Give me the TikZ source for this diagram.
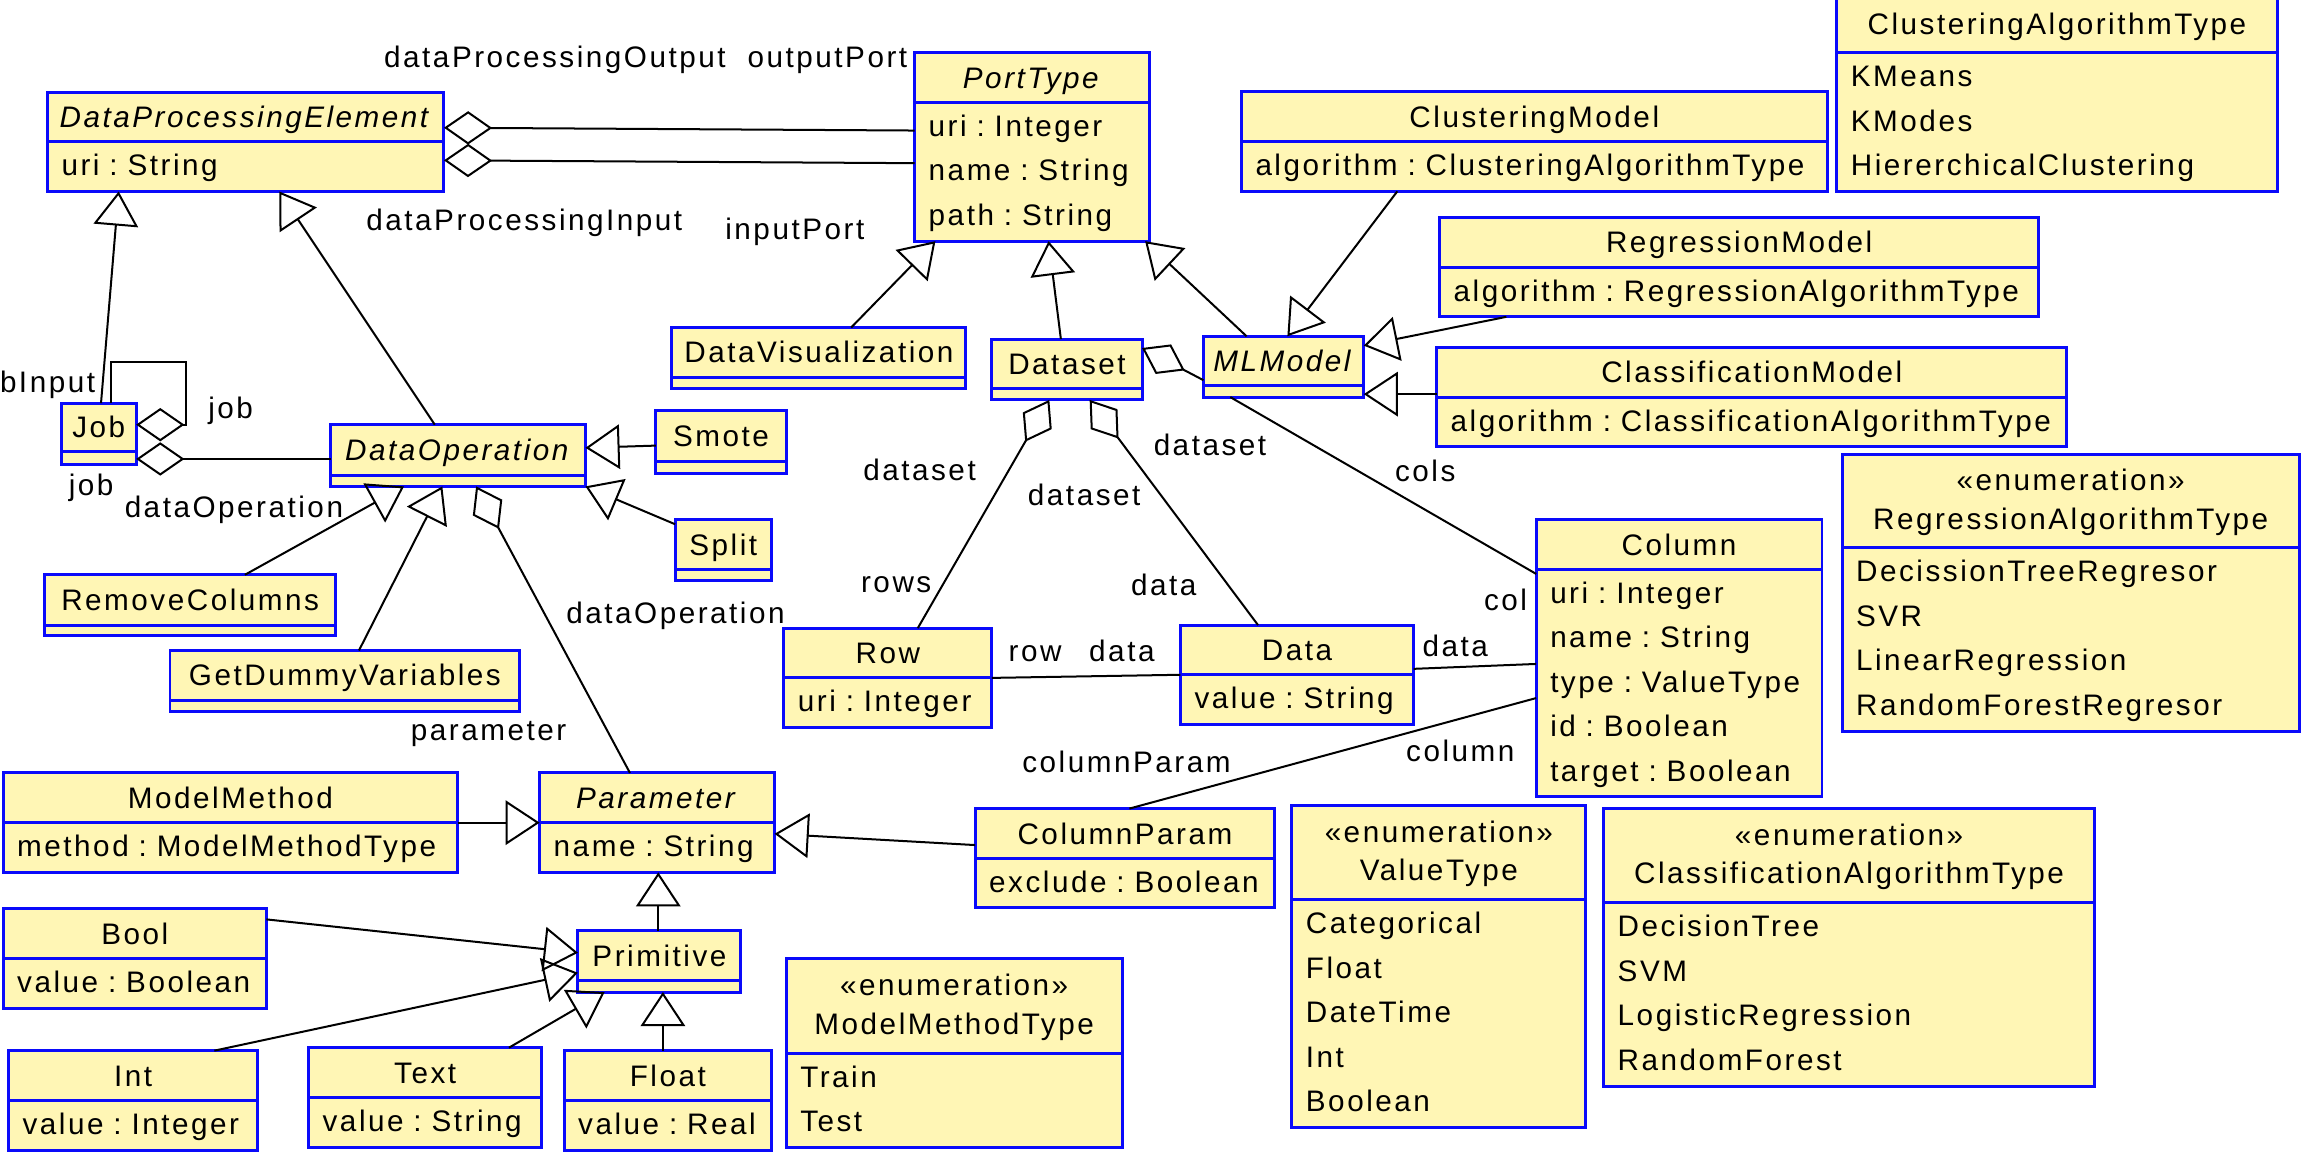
\documentclass[tikz,border=0pt]{standalone}
\usepackage{fontspec}
\setmainfont{Liberation Sans}[LetterSpace=8.5]
\usetikzlibrary{arrows.meta,positioning}
\definecolor{umlfill}{RGB}{255,246,181}
\definecolor{umlblue}{RGB}{10,10,250}

\begin{document}
\begin{tikzpicture}
    [
      x=1pt, y=-1pt,
      every node/.style={font=\fontsize{20}{30}\selectfont, inner sep=0pt, outer sep=0pt},
      cls/.style={draw=umlblue, fill=umlfill, line width=2pt},
      head/.style={cls, anchor=north west, minimum height=33.5pt, text height=14.3pt, text depth=0pt},
      enumhead/.style={cls, anchor=north west, minimum height=63.6pt, align=center, font=\fontsize{20}{26}\selectfont, text height=38pt, text depth=0pt},
      attrs/.style={cls, align=left, inner xsep=9.5pt, minimum height=33.5pt, text height=12.3pt, text depth=0pt},
      emptyrow/.style={cls, minimum height=7.5pt},
      role/.style={anchor=base west},
      genl/.style={-{Triangle[open,length=23pt,width=30pt]}, line width=1.35pt},
      aggr/.style={{Diamond[open,length=32.5pt,width=22.5pt]}-, line width=1.35pt},
      assoc/.style={line width=1.35pt},
    ]
    \useasboundingbox (0,0) rectangle (1560,784.7);

    % top row
    \node (dp-element) [head, minimum width=267.3pt] at (32,62.1) {\textit{DataProcessingElement}};
    \node (dp-element-attr) [attrs, text width=248.3pt, below=0pt of dp-element] {uri~:~String};

    \node (port-type) [head, minimum width=158.4pt] at (616.6,35.5) {\textit{PortType}};
    \node (port-type-attr) [attrs, text width=139.4pt, minimum height=93.6pt, text depth=60pt, below=0pt of port-type] {uri~:~Integer\\name~:~String\\path~:~String};

    \node (clus-model) [head, minimum width=394.9pt] at (836.9,62) {ClusteringModel};
    \node (clus-model-attr) [attrs, text width=375.9pt, below=0pt of clus-model] {algorithm~:~ClusteringAlgorithmType};

    \node (clus-algo) [head, minimum width=296.8pt, minimum height=39pt] at (1238.3,-3.5) {ClusteringAlgorithmType};
    \node (clus-algo-items) [attrs, text width=277.8pt, minimum height=93.6pt, text depth=60pt, below=0pt of clus-algo] {KMeans\\KModes\\HiererchicalClustering};

    \node (regr-model) [head, minimum width=403.9pt] at (970.5,146.6) {RegressionModel};
    \node (regr-model-attr) [attrs, text width=384.9pt, below=0pt of regr-model] {algorithm~:~RegressionAlgorithmType};

    \node (class-model) [head, minimum width=424.9pt] at (968.5,234.2) {ClassificationModel};
    \node (class-model-attr) [attrs, text width=405.9pt, below=0pt of class-model] {algorithm~:~ClassificationAlgorithmType};

    \node (regr-algo) [enumhead, minimum width=308.3pt, minimum height=63.1pt] at (1241.8,306.3) {«enumeration»\\RegressionAlgorithmType};
    \node (regr-algo-items) [attrs, text width=289.3pt, minimum height=123.5pt, text depth=90pt, below=0pt of regr-algo] {DecissionTreeRegresor\\SVR\\LinearRegression\\RandomForestRegresor};

    % middle row
    \node (data-vis) [head, minimum width=198.2pt] at (453,220.8) {DataVisualization};
    \node (data-vis-attr) [emptyrow, minimum width=198.2pt, below=0pt of data-vis] {};

    \node (dataset) [head, minimum width=101.2pt] at (668.7,228.6) {Dataset};
    \node (dataset-attr) [emptyrow, minimum width=101.2pt, below=0pt of dataset] {};

    \node (ml-model) [head, minimum width=108.1pt] at (811.3,226.7) {\textit{MLModel}};
    \node (ml-model-attr) [emptyrow, minimum width=108.1pt, below=0pt of ml-model] {};

    \node (job) [head, minimum width=50.5pt, minimum height=32.6pt] at (41.3,271.8) {Job};
    \node (job-attr) [emptyrow, minimum width=50.5pt, minimum height=8.5pt, below=0pt of job] {};

    \node (data-op) [head, minimum width=171.8pt, minimum height=34.1pt] at (222.9,286.3) {\textit{DataOperation}};
    \node (data-op-attr) [emptyrow, minimum width=171.8pt, below=0pt of data-op] {};

    \node (smote) [head, minimum width=87.8pt, minimum height=34.6pt] at (442.2,276.8) {Smote};
    \node (smote-attr) [emptyrow, minimum width=87.8pt, below=0pt of smote] {};

    \node (split) [head, minimum width=65pt] at (455.1,350.4) {Split};
    \node (split-attr) [emptyrow, minimum width=65pt, below=0pt of split] {};

    \node (remove-cols) [head, minimum width=196.6pt, minimum height=34pt] at (29.9,387.5) {RemoveColumns};
    \node (remove-cols-attr) [emptyrow, minimum width=196.6pt, minimum height=7pt, below=0pt of remove-cols] {};

    \node (dummy-vars) [head, minimum width=235.8pt] at (114.6,438.5) {GetDummyVariables};
    \node (dummy-vars-attr) [emptyrow, minimum width=235.8pt, below=0pt of dummy-vars] {};

    \node (row) [head, minimum width=140.3pt] at (528.4,423.5) {Row};
    \node (row-attr) [attrs, text width=121.3pt, below=0pt of row] {uri~:~Integer};

    \node (data) [head, minimum width=157.2pt] at (795.8,421.4) {Data};
    \node (data-attr) [attrs, text width=138.2pt, below=0pt of data] {value~:~String};

    \node (column) [head, minimum width=192.7pt] at (1035.6,350.4) {Column};
    \node (column-attr) [attrs, text width=173.7pt, minimum height=153.1pt, text depth=120pt, below=0pt of column] {uri~:~Integer\\name~:~String\\type~:~ValueType\\id~:~Boolean\\target~:~Boolean};

    % bottom rows
    \node (model-method) [head, minimum width=306.5pt] at (2.1,521.1) {ModelMethod};
    \node (model-method-attr) [attrs, text width=287.5pt, below=0pt of model-method] {method~:~ModelMethodType};

    \node (parameter) [head, minimum width=158.4pt] at (363.8,521.1) {\textit{Parameter}};
    \node (parameter-attr) [attrs, text width=139.4pt, below=0pt of parameter] {name~:~String};

    \node (column-param) [head, minimum width=202pt] at (657.4,545.1) {ColumnParam};
    \node (column-param-attr) [attrs, text width=183pt, below=0pt of column-param] {exclude~:~Boolean};

    \node (value-type) [enumhead, minimum width=198.2pt] at (870.9,543) {«enumeration»\\ValueType};
    \node (value-type-items) [attrs, text width=179.2pt, minimum height=153.2pt, text depth=120pt, below=0pt of value-type] {Categorical\\Float\\DateTime\\Int\\Boolean};

    \node (class-algo) [enumhead, minimum width=330.9pt] at (1081.1,545) {«enumeration»\\ClassificationAlgorithmType};
    \node (class-algo-items) [attrs, text width=311.9pt, minimum height=123.6pt, text depth=90pt, below=0pt of class-algo] {DecisionTree\\SVM\\LogisticRegression\\RandomForest};

    \node (bool) [head, minimum width=177.5pt] at (2.1,612.7) {Bool};
    \node (bool-attr) [attrs, text width=158.5pt, below=0pt of bool] {value~:~Boolean};

    \node (primitive) [head, minimum width=109.9pt, minimum height=34pt] at (389.6,627.3) {Primitive};
    \node (primitive-attr) [emptyrow, minimum width=109.9pt, below=0pt of primitive] {};

    \node (method-type) [enumhead, minimum width=226.5pt] at (530,646.3) {«enumeration»\\ModelMethodType};
    \node (method-type-items) [attrs, text width=207.5pt, minimum height=63.5pt, text depth=30pt, below=0pt of method-type] {Train\\Test};

    \node (int) [head, minimum width=168.2pt] at (5.7,708.3) {Int};
    \node (int-attr) [attrs, text width=149.2pt, below=0pt of int] {value~:~Integer};

    \node (txt) [head, minimum width=157.3pt] at (208,706.3) {Text};
    \node (txt-attr) [attrs, text width=138.3pt, below=0pt of txt] {value~:~String};

    \node (float) [head, minimum width=139.8pt] at (380.3,708.3) {Float};
    \node (float-attr) [attrs, text width=120.8pt, below=0pt of float] {value~:~Real};

    % generalizations
    \path
    ([xshift=26.8pt]job.north west) edge [genl] ([xshift=48pt]dp-element-attr.south west)
    ([xshift=70.2pt]data-op.north west) edge [genl] ([xshift=156.3pt]dp-element-attr.south west)
    ([yshift=-23.6pt]smote.north west) edge [genl] ([yshift=-15.6pt]data-op.north east)
    ([yshift=-3pt]split.north west) edge [genl] (data-op-attr.south east)
    ([xshift=135.2pt]remove-cols.north west) edge [genl] ([xshift=49.5pt]data-op-attr.south west)
    ([xshift=127.4pt]dummy-vars.north west) edge [genl] ([xshift=75.3pt]data-op-attr.south west)

    ([xshift=120.8pt]data-vis.north west) edge [genl] ([xshift=14pt]port-type-attr.south west)
    ([xshift=46.5pt]dataset.north west) edge [genl] ([xshift=90.3pt]port-type-attr.south west)
    ([xshift=29.1pt]ml-model.north west) edge [genl] ([xshift=-3pt]port-type-attr.south east)

    ([xshift=105.1pt]clus-model-attr.south west) edge [genl] ([xshift=56.6pt]ml-model.north west)
    ([xshift=45pt]regr-model-attr.south west) edge [genl] ([yshift=-6.3pt]ml-model.north east)
    ([yshift=2pt]class-model.south west) edge [genl] ([yshift=-5.5pt]ml-model.south east)

    (model-method.south east) edge [genl] (parameter.south west)
    ([yshift=-24.6pt]column-param.north west) edge [genl] ([yshift=-7.5pt]parameter.south east)
    ([xshift=54.2pt]primitive.north west) edge [genl] ([xshift=80pt]parameter-attr.south west)

    ([yshift=-7.1pt]bool.north east) edge [genl] ([yshift=-15pt]primitive.north west)
    ([xshift=138.8pt]int.north west) edge [genl] ([yshift=-28.5pt]primitive.north west)
    ([xshift=135.1pt]txt.north west) edge [genl] ([xshift=18pt]primitive-attr.south west)
    ([xshift=66.6pt]float.north west) edge [genl] ([xshift=57.3pt]primitive-attr.south west)
    ;

    % aggregations and associations
    \path
    ([yshift=-24pt]dp-element.north east) edge [aggr] ([yshift=-19pt]port-type-attr.north west)
    ([yshift=-12.5pt]dp-element-attr.north east) edge [aggr] ([yshift=-41pt]port-type-attr.north west)
    ([yshift=-5pt]job-attr.north east) edge [aggr] ([yshift=-23.1pt]data-op.north west)
    ([xshift=98.1pt]data-op-attr.south west) edge [aggr] ([xshift=60.9pt]parameter.north west)
    ([yshift=-6pt]dataset.north east) edge [aggr] ([yshift=-29.6pt]ml-model.north west)
    ([xshift=38.7pt]dataset-attr.south west) edge [aggr] ([xshift=90.3pt]row.north west)
    ([xshift=65.9pt]dataset-attr.south west) edge [aggr] ([xshift=52.3pt]data.north west)

    ([xshift=18.1pt]ml-model-attr.south west) edge [assoc] ([yshift=-3pt]column-attr.north west)
    (row.south east) edge [assoc] (data.south west)
    ([yshift=4pt]data.south east) edge [assoc] ([yshift=-63.7pt]column-attr.north west)
    ([yshift=-86.7pt]column-attr.north west) edge [assoc] ([xshift=104pt]column-param.north west)
    ;
    \draw [aggr] ([yshift=-14.5pt]job.north east) -- ++(33.6,0) |- ([xshift=33.5pt,yshift=28pt]job.north west) -- ([xshift=33.5pt]job.north west);

    % role names
    \node (r-dp-output) [role] at (259,45.5) {dataProcessingOutput};
    \node (r-output-port) [role] at (504,45.5) {outputPort};
    \node (r-dp-input) [role] at (247,155.7) {dataProcessingInput};
    \node (r-input-port) [role] at (489,161.7) {inputPort};
    \node (r-job-input) [role] at (0,264.8) {bInput};
    \node (r-job-a) [role] at (140.4,281.8) {job};
    \node (r-job-b) [role] at (46.4,333.9) {job};
    \node (r-data-op-a) [role] at (84.1,348.9) {dataOperation};
    \node (r-data-op-b) [role] at (381.8,420) {dataOperation};
    \node (r-parameter) [role] at (277,499.3) {parameter};
    \node (r-dataset-a) [role] at (582,324) {dataset};
    \node (r-dataset-b) [role] at (693,341) {dataset};
    \node (r-dataset-c) [role] at (777.8,307.4) {dataset};
    \node (r-rows) [role] at (580.5,399.7) {rows};
    \node (r-data-a) [role] at (762.5,401.3) {data};
    \node (r-row) [role] at (680,445.7) {row};
    \node (r-data-b) [role] at (734.3,446.1) {data};
    \node (r-data-c) [role] at (959,442.5) {data};
    \node (r-cols) [role] at (940.5,324.4) {cols};
    \node (r-col) [role] at (1000.5,411.5) {col};
    \node (r-column-param) [role] at (689.2,520.7) {columnParam};
    \node (r-column) [role] at (948,513.6) {column};

\end{tikzpicture}
\end{document}
